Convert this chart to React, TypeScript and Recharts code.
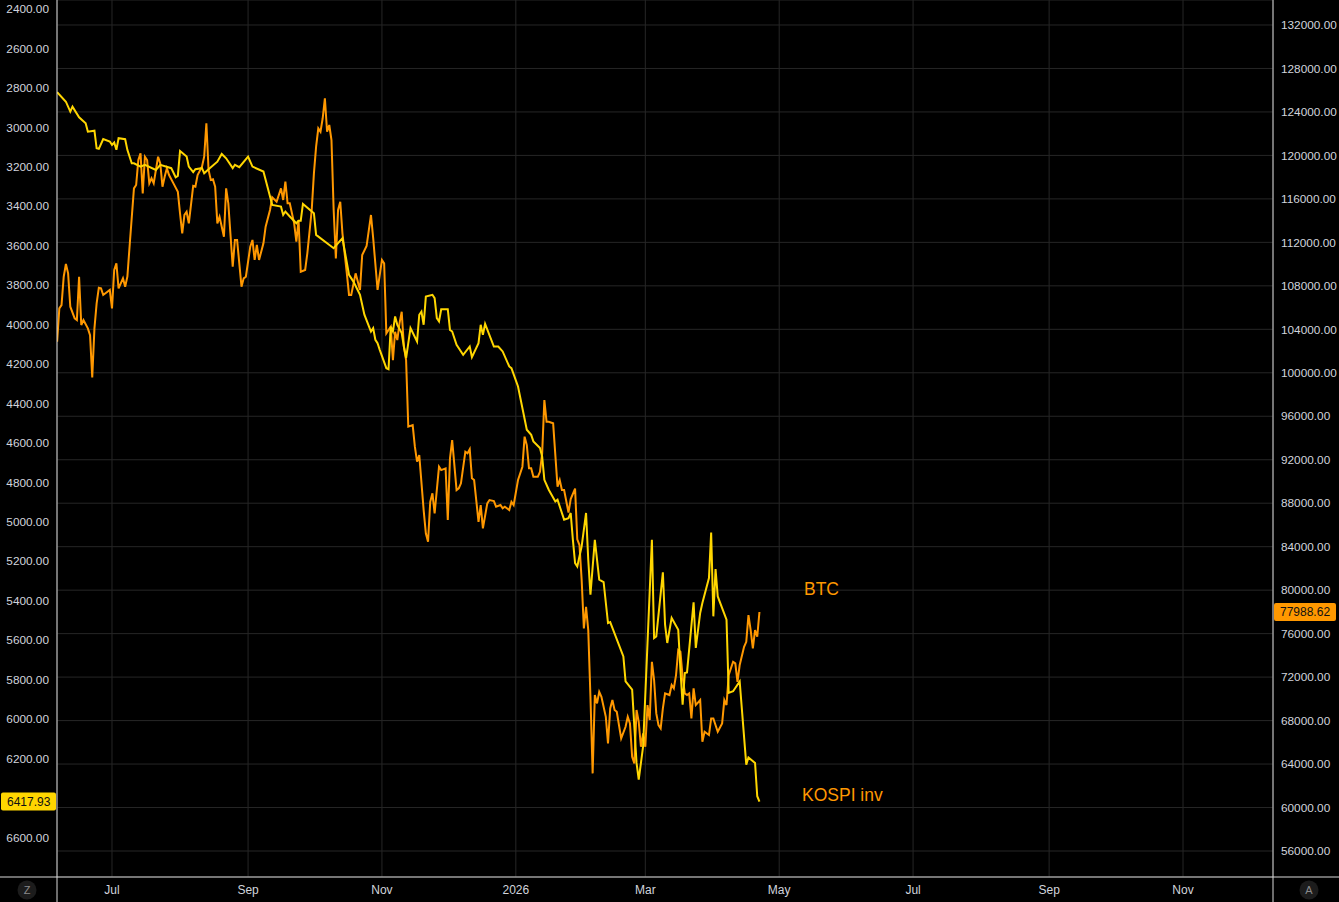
import { LineChart, Line, XAxis, YAxis, CartesianGrid, ReferenceLine, ReferenceDot } from 'recharts';

const DAY = 86400000;
const BASE = Date.parse('2025-07-01');

// x positions are days after 2025-07-01
const kospiDays = [
  -25, -21, -19, -18, -15, -12, -11, -8, -7, -6, -4, -1, 0, 1, 2, 3, 6, 7, 9, 10,
  13, 15, 20, 22, 27, 29, 30, 31, 34, 35, 37, 38, 41, 42, 44, 48, 50, 52, 55, 56,
  58, 62, 64, 69, 72, 73, 77, 78, 79, 81, 84, 85, 86, 87, 92, 93, 101, 105, 108, 110,
  113, 115, 118, 119, 120, 121, 122, 125, 126, 127, 128, 129, 130, 132, 133, 134, 136, 139, 140, 141,
  142, 143, 146, 147, 148, 149, 150, 153, 154, 155, 157, 160, 163, 164, 167, 168, 169, 170, 174, 176,
  178, 181, 182, 185, 189, 191, 192, 195, 196, 197, 199, 202, 203, 206, 208, 209, 210, 211, 212, 214,
  216, 217, 218, 220, 222, 224, 226, 227, 233, 234, 237, 239, 240, 242, 246, 247, 248, 251, 252, 253,
  255, 258, 259, 260, 261, 262, 265, 266, 268, 269, 272, 273, 274, 275, 276, 280, 281, 283, 286, 289,
  290, 293, 294, 295,
];
const kospiValues = [
  2822, 2870, 2920, 2895, 2949, 2979, 3022, 3017, 3106, 3109, 3059, 3072, 3089, 3077, 3114, 3055, 3060, 3114, 3182, 3182,
  3199, 3190, 3216, 3190, 3207, 3253, 3246, 3120, 3148, 3199, 3227, 3212, 3207, 3233, 3212, 3174, 3135, 3157, 3207, 3190,
  3202, 3148, 3199, 3224, 3351, 3393, 3402, 3444, 3427, 3452, 3486, 3473, 3473, 3388, 3435, 3545, 3613, 3562, 3748, 3782,
  3849, 3950, 4035, 4018, 4077, 4094, 4128, 4221, 4226, 4010, 4035, 3959, 4001, 4043, 4111, 4170, 4018, 4086, 3950, 3934,
  4001, 3858, 3849, 3866, 3967, 3984, 3922, 3922, 4027, 4035, 4103, 4153, 4111, 4165, 4094, 4001, 4052, 3996, 4111, 4111,
  4136, 4212, 4221, 4314, 4533, 4559, 4592, 4626, 4669, 4787, 4837, 4897, 4888, 4989, 4981, 4955, 5091, 5209, 5226, 5124,
  4955, 5192, 5369, 5091, 5293, 5305, 5513, 5508, 5682, 5809, 5851, 6222, 6307, 6138, 5091, 5589, 5581, 5256, 5521, 5614,
  5487, 5547, 5749, 5927, 5766, 5763, 5408, 5639, 5462, 5411, 5285, 5054, 5479, 5239, 5378, 5496, 5867, 5859, 5809, 6231,
  6194, 6222, 6391, 6417.93,
];

const btcDays = [
  -25, -24, -23, -22, -21, -20, -19, -17, -16, -15, -14, -13, -11, -10, -9, -8, -7, -6, -5, -4,
  -1, 0, 1, 2, 3, 5, 6, 7, 8, 10, 11, 12, 13, 14, 15, 16, 17, 18, 19, 21,
  22, 23, 24, 25, 26, 28, 30, 31, 32, 33, 34, 35, 37, 38, 39, 41, 42, 43, 44, 45,
  46, 47, 48, 49, 51, 52, 53, 55, 56, 57, 59, 60, 61, 63, 64, 65, 66, 67, 69, 70,
  72, 73, 75, 77, 78, 79, 80, 81, 83, 84, 85, 86, 88, 89, 91, 92, 93, 94, 95, 96,
  97, 98, 99, 100, 101, 102, 103, 104, 105, 107, 108, 109, 111, 113, 114, 116, 118, 119, 121, 123,
  124, 125, 127, 128, 129, 130, 131, 132, 133, 134, 135, 137, 138, 139, 140, 142, 143, 144, 145, 146,
  147, 149, 150, 152, 153, 154, 155, 157, 158, 159, 161, 162, 163, 164, 165, 167, 168, 169, 171, 172,
  174, 175, 177, 178, 179, 181, 182, 183, 185, 187, 188, 189, 190, 191, 192, 194, 195, 196, 197, 198,
  199, 201, 203, 204, 205, 206, 208, 209, 211, 212, 213, 214, 215, 216, 217, 218, 219, 220, 221, 222,
  223, 225, 226, 227, 228, 229, 230, 232, 234, 235, 236, 237, 238, 239, 240, 241, 242, 243, 244, 245,
  246, 247, 248, 249, 250, 251, 252, 254, 255, 256, 257, 258, 259, 260, 261, 262, 263, 264, 265, 266,
  268, 269, 270, 272, 273, 274, 276, 278, 279, 280, 281, 283, 284, 285, 286, 288, 289, 290, 291, 292,
  293, 294, 295,
];
const btcValues = [
  102860, 105930, 106230, 108840, 110010, 109150, 106080, 105010, 104850, 108840, 104390, 104850, 104090, 103470, 99580, 104090, 106390, 107830, 107770, 107160,
  107620, 105930, 109460, 110070, 107770, 108690, 107920, 108840, 111600, 116970, 117280, 119580, 120190, 116510, 119880, 119580, 117430, 117890, 117430, 119880,
  119270, 117120, 118040, 118810, 118200, 117430, 116660, 114670, 112830, 114520, 114820, 113750, 117190, 117120, 118200, 118960, 119880, 122960, 118660, 117740,
  117800, 117120, 113750, 114360, 112520, 116970, 115590, 109760, 112220, 112220, 107920, 108690, 108840, 111600, 112220, 110380, 111760, 110380, 111910, 113440,
  114980, 116150, 115740, 116970, 115900, 117580, 115590, 115590, 113750, 112060, 114060, 109300, 109460, 110990, 114980, 118350, 120800, 122490, 122180, 123420,
  125260, 122180, 122800, 121420, 114980, 110530, 114980, 115740, 112830, 109150, 107160, 107160, 109150, 107620, 110840, 111660, 114520, 112400, 107620, 110380,
  110070, 103630, 104240, 101170, 103780, 103010, 104550, 105620, 102400, 101170, 95040, 95190, 93200, 91820, 92430, 87370, 85230, 84450, 88130, 88910,
  87070, 91360, 91050, 91210, 86450, 92130, 93810, 89210, 89370, 89830, 92740, 92590, 92960, 90290, 90130, 86290, 87830, 85690, 87990, 88290,
  88200, 87680, 87830, 87530, 87680, 87370, 88130, 87830, 90130, 91360, 94120, 93350, 91210, 91210, 90430, 90430, 90890, 92590, 97490, 95500,
  95500, 95350, 89520, 90130, 89210, 89210, 87140, 88380, 89350, 84680, 84150, 80930, 76480, 78470, 76330, 70190, 63140, 70350, 69580, 70650,
  70190, 68350, 65900, 69120, 69890, 68970, 68810, 66360, 67430, 68350, 67740, 64670, 64060, 68970, 67890, 65590, 66820, 65590, 69430, 68050,
  73410, 71730, 68660, 67590, 67280, 69120, 70500, 70350, 71270, 70960, 72190, 74490, 74330, 72030, 70500, 70350, 70500, 68200, 70960, 69430,
  69890, 66050, 66970, 66670, 68200, 68200, 66970, 67740, 69890, 69430, 72190, 73410, 73260, 71570, 73110, 74790, 75250, 77700, 76330, 74640,
  76330, 75710, 77988.62,
];

const monthTickDates = ['2025-07-01', '2025-09-01', '2025-11-01', '2026-01-01', '2026-03-01', '2026-05-01', '2026-07-01', '2026-09-01', '2026-11-01'];
const monthTickLabels = ['Jul', 'Sep', 'Nov', '2026', 'Mar', 'May', 'Jul', 'Sep', 'Nov'];
const kospiTicks = [2400, 2600, 2800, 3000, 3200, 3400, 3600, 3800, 4000, 4200, 4400, 4600, 4800, 5000, 5200, 5400, 5600, 5800, 6000, 6200, 6600];
const btcTicks = [56000, 60000, 64000, 68000, 72000, 76000, 80000, 84000, 88000, 92000, 96000, 100000, 104000, 108000, 112000, 116000, 120000, 124000, 128000, 132000];

const kospiData = kospiDays.map((d, i) => ({ t: BASE + d * DAY, v: kospiValues[i] }));
const btcData = btcDays.map((d, i) => ({ t: BASE + d * DAY, v: btcValues[i] }));
const monthTicks = monthTickDates.map(s => Date.parse(s));

const YELLOW = '#ffd600';
const ORANGE = '#ff9800';
const AXIS = '#d9d9d9';
const GRID = '#262626';
const TEXT = '#d1d4dc';
const FONT = '"Liberation Sans", Arial, sans-serif';

const AxisBadge = ({ viewBox, side, text, fill }: any) => {
  if (!viewBox) return null;
  const y = viewBox.y;
  const x = side === 'left' ? viewBox.x - 56 : viewBox.x + viewBox.width + 1;
  const w = side === 'left' ? 55 : 62;
  return (
    <g>
      <rect x={x} y={y - 9} width={w} height={18} rx={2} fill={fill} />
      <text x={x + 6} y={y} dominantBaseline="central" fontSize={12} fontFamily={FONT} fill="#111">
        {text}
      </text>
    </g>
  );
};

const Annotation = ({ viewBox, text }: any) => {
  if (!viewBox) return null;
  return (
    <text x={viewBox.x} y={viewBox.y} dominantBaseline="central" fontSize={17.5} fontFamily={FONT} fill={ORANGE}>
      {text}
    </text>
  );
};

export default function App() {
  const lastKospi = kospiValues[kospiValues.length - 1];
  const lastBtc = btcValues[btcValues.length - 1];
  return (
    <div style={{ position: 'absolute', left: 0, top: 0, width: 1339, height: 902, background: '#000' }}>
      <style>{'body{margin:0;background:#000}'}</style>
      <LineChart width={1339} height={902} margin={{ top: 0, right: 0, bottom: 0, left: 0 }}>
        <CartesianGrid yAxisId="right" stroke={GRID} />
        <XAxis
          dataKey="t"
          type="number"
          domain={[BASE - 25.06 * DAY, BASE + 529 * DAY]}
          allowDataOverflow
          ticks={monthTicks}
          tickFormatter={(v: number) => monthTickLabels[monthTicks.indexOf(v)] ?? ''}
          height={25}
          axisLine={{ stroke: AXIS }}
          tickLine={false}
          tick={{ fill: TEXT, fontSize: 12, fontFamily: FONT }}
        />
        <YAxis
          yAxisId="left"
          orientation="left"
          reversed
          type="number"
          domain={[2354.4, 6800.5]}
          allowDataOverflow
          ticks={kospiTicks}
          tickFormatter={(v: number) => v.toFixed(2)}
          width={57}
          axisLine={{ stroke: AXIS }}
          tickLine={false}
          tick={{ fill: TEXT, fontSize: 11.8, fontFamily: FONT }}
        />
        <YAxis
          yAxisId="right"
          orientation="right"
          type="number"
          domain={[53608, 134300]}
          allowDataOverflow
          ticks={btcTicks}
          tickFormatter={(v: number) => v.toFixed(2)}
          width={66}
          axisLine={{ stroke: AXIS }}
          tickLine={false}
          tick={{ fill: TEXT, fontSize: 11.8, fontFamily: FONT, textAnchor: 'start' }}
        />
        <Line
          data={btcData}
          yAxisId="right"
          dataKey="v"
          type="linear"
          stroke={ORANGE}
          strokeWidth={2}
          dot={false}
          isAnimationActive={false}
        />
        <Line
          data={kospiData}
          yAxisId="left"
          dataKey="v"
          type="linear"
          stroke={YELLOW}
          strokeWidth={2}
          dot={false}
          isAnimationActive={false}
        />
        <ReferenceLine yAxisId="left" y={lastKospi} stroke="none"
          label={<AxisBadge side="left" text={lastKospi.toFixed(2)} fill={YELLOW} />} />
        <ReferenceLine yAxisId="right" y={lastBtc} stroke="none"
          label={<AxisBadge side="right" text={lastBtc.toFixed(2)} fill={ORANGE} />} />
        <ReferenceDot yAxisId="right" x={BASE + 315.3 * DAY} y={80100} r={0} fill="none" stroke="none"
          label={<Annotation text="BTC" />} />
        <ReferenceDot yAxisId="left" x={BASE + 314.4 * DAY} y={6383} r={0} fill="none" stroke="none"
          label={<Annotation text="KOSPI inv" />} />
      </LineChart>
      <svg width={1339} height={902} style={{ position: 'absolute', left: 0, top: 0, pointerEvents: 'none' }}>
        <line x1={57} y1={877} x2={57} y2={902} stroke={AXIS} />
        <line x1={1273} y1={877} x2={1273} y2={902} stroke={AXIS} />
        <line x1={0} y1={877} x2={57} y2={877} stroke={AXIS} />
        <line x1={1273} y1={877} x2={1339} y2={877} stroke={AXIS} />
        <circle cx={27} cy={890} r={9.5} fill="#1c1c1c" />
        <text x={27} y={890} textAnchor="middle" dominantBaseline="central" fontSize={11} fontFamily={FONT} fill="#8a8a8a">Z</text>
        <circle cx={1309} cy={890} r={9.5} fill="#1c1c1c" />
        <text x={1309} y={890} textAnchor="middle" dominantBaseline="central" fontSize={11} fontFamily={FONT} fill="#8a8a8a">A</text>
      </svg>
    </div>
  );
}
